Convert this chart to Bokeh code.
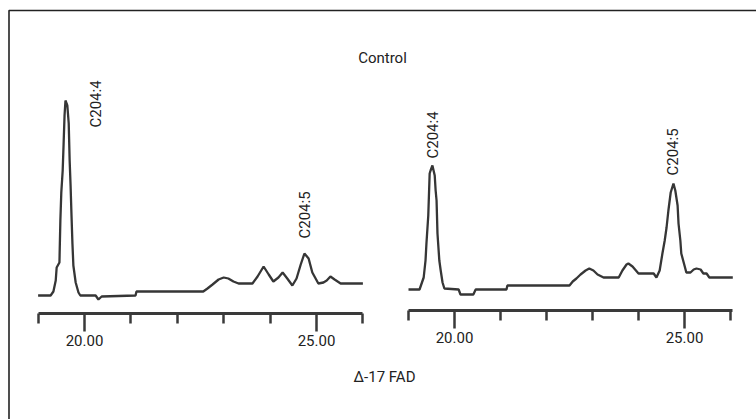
from bokeh.plotting import figure
from bokeh.models import Range1d, LinearAxis, FixedTicker, PrintfTickFormatter, Label, BoxAnnotation
from bokeh.embed import file_html
from bokeh.resources import INLINE

# ---------------- data (retention time in min, detector signal) ----------------
left_time = [19.00, 19.27, 19.33, 19.38, 19.40, 19.46, 19.48, 19.50, 19.53, 19.55,
             19.57, 19.59, 19.63, 19.66, 19.68, 19.70, 19.72, 19.74, 19.76, 19.81,
             19.87, 19.91, 20.24, 20.30, 20.37, 21.10, 21.12, 22.56, 22.65, 22.76,
             22.89, 23.00, 23.10, 23.21, 23.32, 23.62, 23.73, 23.86, 23.97, 24.07,
             24.18, 24.27, 24.37, 24.48, 24.57, 24.66, 24.74, 24.83, 24.91, 25.04,
             25.15, 25.22, 25.30, 25.39, 25.52, 26.00]
left_signal = [0, 0, 4, 15, 28, 33, 75, 103, 125, 152,
               180, 195, 190, 172, 135, 110, 80, 52, 30, 13,
               3, 0, 0, -4, -1, 0, 4, 4, 7, 11,
               16, 18, 17, 14, 12, 12, 19, 29, 21, 14,
               18, 23, 17, 10, 17, 31, 42, 37, 23, 12,
               13, 15, 19, 16, 12, 12]

right_time = [19.00, 19.24, 19.33, 19.37, 19.39, 19.43, 19.46, 19.48, 19.52, 19.57,
              19.59, 19.61, 19.63, 19.67, 19.70, 19.74, 19.78, 20.09, 20.13, 20.41,
              20.46, 21.13, 21.15, 22.50, 22.57, 22.65, 22.74, 22.85, 22.93, 23.02,
              23.11, 23.24, 23.57, 23.65, 23.74, 23.78, 23.87, 24.00, 24.33, 24.39,
              24.46, 24.52, 24.57, 24.61, 24.65, 24.70, 24.76, 24.80, 24.85, 24.87,
              24.91, 24.93, 25.00, 25.04, 25.13, 25.20, 25.26, 25.35, 25.41, 25.48,
              25.54, 26.05]
right_signal = [0, 0, 12, 29, 46, 74, 116, 119, 124, 114,
                99, 89, 56, 29, 19, 7, 1, 0, -5, -5,
                0, 0, 4, 4, 8, 11, 15, 19, 21, 19,
                15, 12, 12, 19, 25, 26, 23, 16, 16, 12,
                19, 36, 49, 62, 79, 97, 106, 99, 84, 66,
                49, 36, 24, 17, 17, 20, 21, 20, 16, 16,
                12, 12]

major_ticks = [20, 25]
minor_ticks = [19, 21, 22, 23, 24, 26]

left_peak_names = ["C204:4", "C204:5"]
left_peak_x = [20.24, 24.76]
left_peak_y = [168, 57]
right_peak_names = ["C204:4", "C204:5"]
right_peak_x = [19.53, 24.76]
right_peak_y = [131, 114]

title_text = "Control"
xlabel_text = "\u0394-17 FAD"

# ---------------- layout constants ----------------
W, H = 756, 419
FONT = "Roboto"
FS = "15px"
INK = "#222222"


def xrange_for(px_per_unit, ref_val, ref_px):
    start = ref_val - ref_px / px_per_unit
    return Range1d(start, start + W / px_per_unit)


def yrange_for(base_px):
    start = -(H - base_px)
    return Range1d(start, start + H)


p = figure(width=W, height=H, x_range=Range1d(0, W), y_range=Range1d(H, 0),
           x_axis_type=None, y_axis_type=None, min_border=0,
           output_backend="svg", toolbar_location=None)
p.outline_line_color = None
p.background_fill_color = "white"
p.border_fill_color = "white"

p.extra_x_ranges = {"xl": xrange_for(46.4, 20, 84), "xr": xrange_for(46.0, 20, 454)}
p.extra_y_ranges = {"yl": yrange_for(295), "yr": yrange_for(289)}

# outer box (right and bottom edges fall outside the picture)
p.add_layout(BoxAnnotation(left=8.5, right=W + 20, top=10, bottom=H + 20,
                           fill_alpha=0, line_color="#222222", line_alpha=1.0,
                           line_width=1.6))

for xr, yr, t, s, bounds, loc in [("xl", "yl", left_time, left_signal, (19, 26), -18),
                                  ("xr", "yr", right_time, right_signal, (19, 26.05), -21)]:
    p.line(t, s, x_range_name=xr, y_range_name=yr, line_color="#363636", line_width=2.3)
    ax = LinearAxis(x_range_name=xr, y_range_name=yr, fixed_location=loc, bounds=bounds,
                    ticker=FixedTicker(ticks=major_ticks, minor_ticks=minor_ticks),
                    formatter=PrintfTickFormatter(format="%.2f"))
    ax.axis_line_width = 3
    ax.axis_line_color = "#3a3a3a"
    ax.major_tick_line_width = 2.5
    ax.major_tick_line_color = "#3a3a3a"
    ax.minor_tick_line_width = 2.5
    ax.minor_tick_line_color = "#3a3a3a"
    ax.major_tick_in = 0
    ax.major_tick_out = 18
    ax.minor_tick_in = 0
    ax.minor_tick_out = 10
    ax.major_label_standoff = 3
    ax.major_label_text_font = FONT
    ax.major_label_text_font_size = FS
    ax.major_label_text_color = INK
    p.add_layout(ax, "below")

for xr, yr, names, xs, ys in [("xl", "yl", left_peak_names, left_peak_x, left_peak_y),
                              ("xr", "yr", right_peak_names, right_peak_x, right_peak_y)]:
    for n, x, y in zip(names, xs, ys):
        p.add_layout(Label(x=x, y=y, x_range_name=xr, y_range_name=yr, text=n,
                           angle=90, angle_units="deg", text_align="left",
                           text_baseline="middle", text_font=FONT,
                           text_font_size=FS, text_color=INK))

p.add_layout(Label(x=382, y=57, text=title_text, text_align="center",
                   text_baseline="middle", text_font=FONT, text_font_size=FS,
                   text_color=INK))
p.add_layout(Label(x=384, y=376, text=xlabel_text, text_align="center",
                   text_baseline="middle", text_font=FONT, text_font_size=FS,
                   text_color=INK))

open("out.html", "w").write(file_html(p, INLINE))
